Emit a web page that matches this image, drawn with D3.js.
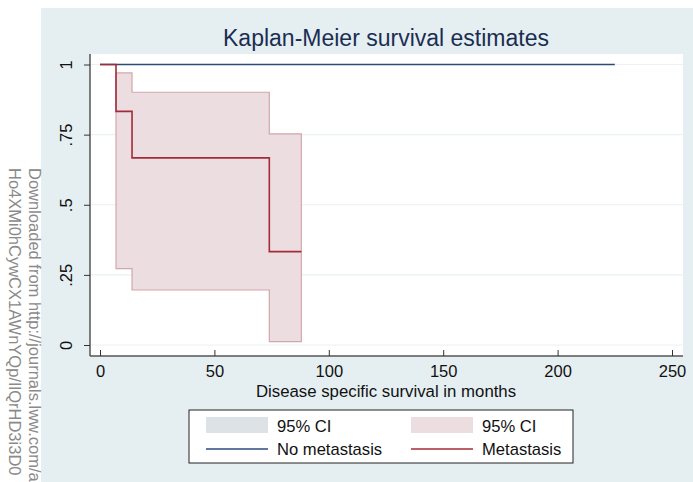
<!DOCTYPE html>
<html>
<head>
<meta charset="utf-8">
<script src="https://cdn.jsdelivr.net/npm/d3@7"></script>
<style>
  body { margin: 0; background: #fff; }
  svg { display: block; font-family: "Liberation Sans", Arial, sans-serif; }
</style>
</head>
<body>
<div id="chart-area"></div>
<script>
// data
var xTicks = [0, 50, 100, 150, 200, 250];
var yTicks = [0, 0.25, 0.5, 0.75, 1];
var yTickLabels = ["0", ".25", ".5", ".75", "1"];

var noMetTime = [0, 225];
var noMetSurv = [1, 1];

var metTime = [0, 7, 14, 74, 88];
var metSurv = [1, 0.833, 0.667, 0.333, 0.333];
var metUpper = [1, 0.97, 0.901, 0.753, 0.753];
var metLower = [1, 0.272, 0.196, 0.012, 0.012];

var legendLabels = ["95% CI", "95% CI", "No metastasis", "Metastasis"];

var W = 693, H = 482;
var svg = d3.select("#chart-area").append("svg")
    .attr("width", W)
    .attr("height", H);

// background panel
svg.append("rect")
    .attr("x", 41).attr("y", 8)
    .attr("width", W - 41).attr("height", H - 8)
    .attr("fill", "#e5eff2");

// watermark
var wm = svg.append("g").attr("fill", "#8a8a8a").attr("font-size", 16.5);
wm.append("text")
    .attr("transform", "translate(29,168) rotate(90)")
    .text("Downloaded from http://journals.lww.com/a");
wm.append("text")
    .attr("transform", "translate(9,168) rotate(90)")
    .text("Ho4XMi0hCywCX1AWnYQp/IlQrHD3i3D0");

// plot region
var plot = {left: 90, top: 54, right: 683, bottom: 356};
svg.append("rect")
    .attr("x", plot.left).attr("y", plot.top)
    .attr("width", plot.right - plot.left).attr("height", plot.bottom - plot.top)
    .attr("fill", "#ffffff");

var x = d3.scaleLinear().domain([0, 250]).range([100, 672]);
var y = d3.scaleLinear().domain([0, 1]).range([345, 64.5]);

// grid
svg.append("g").selectAll("line")
    .data(yTicks)
    .enter().append("line")
        .attr("x1", plot.left).attr("x2", plot.right)
        .attr("y1", function(d) { return y(d); })
        .attr("y2", function(d) { return y(d); })
        .attr("stroke", "#eaf2f4")
        .attr("stroke-width", 1.2);

// CI band for metastasis (step)
var band = [];
for (var i = 1; i < metTime.length; i++) {
    band.push({t: metTime[i], lo: metLower[i], hi: metUpper[i]});
}
var area = d3.area()
    .curve(d3.curveStepAfter)
    .x(function(d) { return x(d.t); })
    .y0(function(d) { return y(d.lo); })
    .y1(function(d) { return y(d.hi); });
svg.append("path")
    .datum(band)
    .attr("d", area)
    .attr("fill", "#ecdde0")
    .attr("stroke", "#d3a6ac")
    .attr("stroke-width", 1.2);

var line = d3.line()
    .curve(d3.curveStepAfter)
    .x(function(d) { return x(d[0]); })
    .y(function(d) { return y(d[1]); });

// no metastasis
svg.append("path")
    .datum(d3.zip(noMetTime, noMetSurv))
    .attr("d", line)
    .attr("fill", "none")
    .attr("stroke", "#2c4a7a")
    .attr("stroke-width", 1.4);

// metastasis
svg.append("path")
    .datum(d3.zip(metTime, metSurv))
    .attr("d", line)
    .attr("fill", "none")
    .attr("stroke", "#a52a3a")
    .attr("stroke-width", 1.6);

// axes
var xAxis = d3.axisBottom(x).tickValues(xTicks).tickSize(6).tickSizeOuter(0);
var xg = svg.append("g")
    .attr("transform", "translate(0," + plot.bottom + ")")
    .call(xAxis);
xg.select(".domain").attr("d", "M" + plot.left + ",0H" + plot.right).attr("stroke", "#555").attr("stroke-width", 1.5);
xg.selectAll(".tick line").attr("y2", -6).attr("stroke", "#333");
xg.selectAll(".tick text")
    .attr("y", 9).attr("font-size", 16.5).attr("fill", "#111")
    .attr("font-family", "Liberation Sans, Arial, sans-serif");

var yAxis = d3.axisLeft(y).tickValues(yTicks)
    .tickFormat(function(d, i) { return yTickLabels[i]; })
    .tickSize(6).tickSizeOuter(0);
var yg = svg.append("g")
    .attr("transform", "translate(" + plot.left + ",0)")
    .call(yAxis);
yg.select(".domain").attr("d", "M0," + plot.top + "V" + plot.bottom).attr("stroke", "#555").attr("stroke-width", 1.5);
yg.selectAll(".tick line").attr("stroke", "#333");
yg.selectAll(".tick text")
    .attr("x", 0).attr("dy", 0)
    .attr("transform", "translate(-22,0) rotate(-90)")
    .attr("text-anchor", "middle")
    .attr("dominant-baseline", "middle")
    .attr("font-size", 16.5).attr("fill", "#111")
    .attr("font-family", "Liberation Sans, Arial, sans-serif");

// title and axis label
svg.append("text")
    .attr("x", 386).attr("y", 46)
    .attr("text-anchor", "middle")
    .attr("font-size", 23)
    .attr("fill", "#1c2d52")
    .text("Kaplan-Meier survival estimates");

svg.append("text")
    .attr("x", 386).attr("y", 397)
    .attr("text-anchor", "middle")
    .attr("font-size", 16.8)
    .attr("fill", "#111")
    .text("Disease specific survival in months");

// legend
var lg = svg.append("g");
lg.append("rect")
    .attr("x", 189).attr("y", 410)
    .attr("width", 384).attr("height", 53)
    .attr("fill", "#fff").attr("stroke", "#222").attr("stroke-width", 1);

var items = [
    {col: 0, row: 0, type: "fill", color: "#dde2e7"},
    {col: 1, row: 0, type: "fill", color: "#ecdde0"},
    {col: 0, row: 1, type: "line", color: "#2c4a7a"},
    {col: 1, row: 1, type: "line", color: "#a52a3a"}
];
items.forEach(function(it, i) {
    var sx = it.col === 0 ? 206 : 411;
    var cy = it.row === 0 ? 425 : 449;
    if (it.type === "fill") {
        lg.append("rect")
            .attr("x", sx).attr("y", cy - 8)
            .attr("width", 62).attr("height", 16)
            .attr("fill", it.color);
    } else {
        lg.append("line")
            .attr("x1", sx).attr("x2", sx + 62)
            .attr("y1", cy).attr("y2", cy)
            .attr("stroke", it.color).attr("stroke-width", 1.4);
    }
    lg.append("text")
        .attr("x", sx + 71).attr("y", it.row === 0 ? 432 : 455)
        .attr("font-size", 16.6)
        .attr("fill", "#111")
        .text(legendLabels[i]);
});
</script>
</body>
</html>
